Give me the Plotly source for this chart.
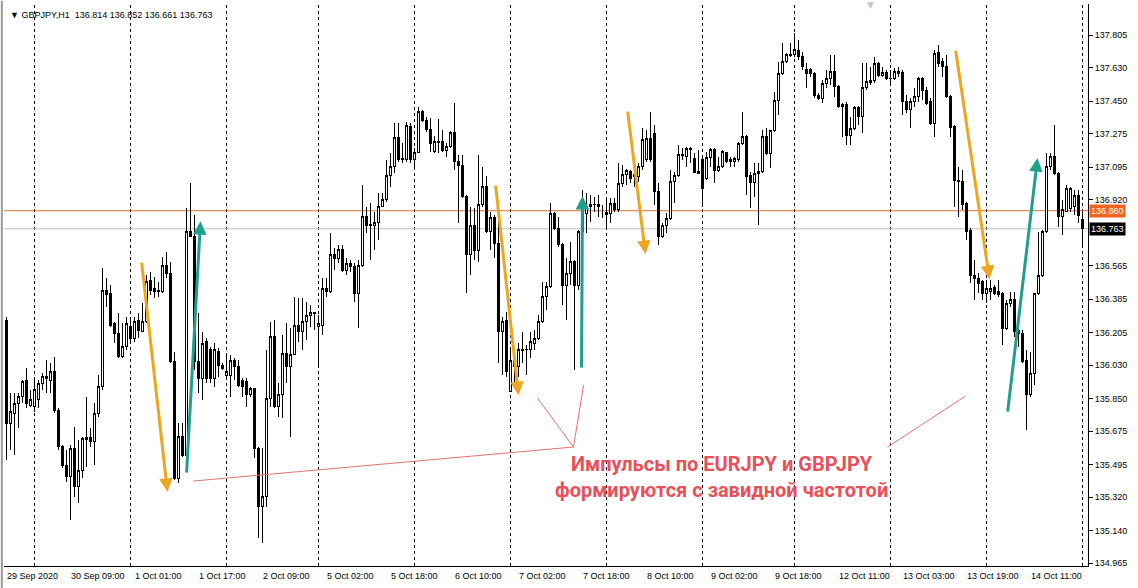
import plotly.graph_objects as go

# ---------------- data (GBPJPY H1) ----------------
opens = [
136.272, 135.716, 135.770, 135.824, 135.860, 135.949, 135.815, 135.806, 135.842, 135.931,
135.967, 135.949, 135.994, 135.788, 135.591, 135.492, 135.429, 135.582, 135.376, 135.465,
135.630, 135.641, 135.618, 135.770, 135.913, 136.433, 136.416, 136.254, 136.200, 136.075,
136.129, 136.236, 136.173, 136.272, 136.209, 136.263, 136.487, 136.442, 136.424, 136.424,
136.568, 136.523, 136.048, 135.420, 135.645, 135.546, 136.747, 136.720, 136.048, 135.958,
136.156, 136.111, 135.958, 136.102, 136.030, 135.976, 135.976, 136.057, 136.021, 135.949,
135.940, 135.869, 135.905, 135.582, 135.268, 135.322, 135.851, 136.182, 135.806, 135.869,
136.093, 136.021, 136.084, 136.245, 136.209, 136.263, 136.294, 136.312, 136.236, 136.245,
136.442, 136.424, 136.622, 136.604, 136.652, 136.541, 136.577, 136.559, 136.416, 136.568,
136.828, 136.787, 136.778, 136.796, 136.885, 136.918, 137.047, 137.097, 137.255, 137.133,
137.133, 137.312, 137.136, 137.172, 137.395, 137.344, 137.298, 137.178, 137.235, 137.231,
137.183, 137.204, 137.283, 137.127, 137.106, 136.939, 136.627, 136.783, 136.645, 136.896,
136.993, 136.747, 136.824, 136.684, 136.209, 136.269, 135.887, 136.057, 136.021, 136.107,
136.111, 136.111, 136.147, 136.173, 136.263, 136.398, 136.451, 136.846, 136.765, 136.676,
136.460, 136.523, 136.586, 136.460, 136.747, 136.846, 136.885, 136.891, 136.891, 136.878,
136.842, 136.846, 136.900, 136.864, 137.007, 137.057, 137.070, 137.057, 137.043, 137.097,
137.133, 137.249, 137.276, 136.962, 136.720, 136.778, 136.819, 137.016, 137.047, 137.158,
137.154, 137.187, 137.142, 137.070, 137.133, 137.034, 137.147, 137.190, 137.079, 137.097,
137.172, 137.124, 137.124, 137.133, 137.222, 137.258, 137.052, 137.011, 137.061, 137.070,
137.258, 137.169, 137.294, 137.455, 137.599, 137.662, 137.696, 137.698, 137.724, 137.689,
137.620, 137.620, 137.599, 137.482, 137.464, 137.545, 137.572, 137.608, 137.527, 137.420,
137.434, 137.267, 137.303, 137.416, 137.369, 137.524, 137.549, 137.559, 137.653, 137.590,
137.602, 137.570, 137.572, 137.599, 137.602, 137.447, 137.402, 137.447, 137.473, 137.572,
137.509, 137.447, 137.330, 137.710, 137.662, 137.638, 137.473, 137.312, 137.025, 137.016,
136.900, 136.756, 136.514, 136.496, 136.478, 136.416, 136.424, 136.448, 136.424, 136.416,
136.227, 136.362, 136.380, 136.218, 136.200, 136.057, 135.869, 135.985, 136.416, 136.514,
136.747, 137.097, 137.151, 137.061, 136.828, 136.855, 136.873, 136.882, 136.944, 136.814,
]
highs = [
136.290, 135.878, 135.878, 135.878, 135.949, 136.012, 135.896, 135.949, 135.949, 135.985,
136.057, 136.039, 136.075, 135.797, 135.600, 135.573, 135.600, 135.698, 135.627, 135.645,
135.860, 135.689, 135.824, 135.976, 136.550, 136.496, 136.460, 136.263, 136.308, 136.254,
136.290, 136.290, 136.290, 136.308, 136.362, 136.514, 136.532, 136.505, 136.478, 136.613,
136.640, 136.586, 136.102, 135.716, 135.716, 136.873, 137.007, 136.837, 136.308, 136.209,
136.173, 136.129, 136.147, 136.120, 136.039, 136.084, 136.084, 136.066, 136.057, 135.958,
135.958, 135.913, 135.905, 135.591, 135.582, 136.111, 136.263, 136.272, 135.931, 136.191,
136.254, 136.227, 136.398, 136.389, 136.389, 136.371, 136.353, 136.317, 136.299, 136.496,
136.496, 136.738, 136.658, 136.676, 136.676, 136.604, 136.595, 136.577, 136.595, 136.998,
136.882, 136.900, 136.855, 136.953, 136.953, 137.133, 137.169, 137.334, 137.334, 137.222,
137.339, 137.330, 137.195, 137.420, 137.402, 137.362, 137.357, 137.262, 137.351, 137.294,
137.222, 137.291, 137.438, 137.160, 137.160, 136.944, 136.882, 136.873, 137.160, 137.097,
137.048, 136.855, 136.837, 136.837, 136.286, 136.317, 136.111, 136.093, 136.147, 136.209,
136.138, 136.209, 136.218, 136.299, 136.478, 136.478, 136.900, 136.855, 136.828, 136.685,
136.604, 136.694, 136.595, 136.756, 136.971, 136.953, 136.944, 136.936, 136.944, 136.891,
136.927, 136.927, 136.927, 137.115, 137.106, 137.083, 137.079, 137.133, 137.115, 137.303,
137.294, 137.393, 137.321, 137.007, 136.792, 136.846, 137.079, 137.070, 137.213, 137.195,
137.204, 137.204, 137.169, 137.187, 137.151, 137.178, 137.195, 137.195, 137.151, 137.187,
137.178, 137.151, 137.151, 137.231, 137.393, 137.267, 137.070, 137.115, 137.115, 137.294,
137.303, 137.294, 137.500, 137.662, 137.760, 137.707, 137.760, 137.814, 137.778, 137.715,
137.653, 137.626, 137.608, 137.491, 137.563, 137.617, 137.698, 137.698, 137.536, 137.441,
137.447, 137.366, 137.423, 137.423, 137.653, 137.653, 137.635, 137.689, 137.662, 137.635,
137.617, 137.617, 137.626, 137.635, 137.617, 137.482, 137.464, 137.518, 137.581, 137.581,
137.527, 137.464, 137.724, 137.751, 137.680, 137.698, 137.482, 137.321, 137.097, 137.079,
136.909, 136.765, 136.595, 136.523, 136.487, 136.487, 136.487, 136.460, 136.487, 136.425,
136.380, 136.424, 136.424, 136.263, 136.218, 136.111, 136.102, 136.416, 136.747, 136.756,
137.169, 137.169, 137.321, 137.070, 136.918, 136.998, 136.989, 136.971, 136.971, 136.852,
]
lows = [
135.519, 135.573, 135.546, 135.689, 135.824, 135.797, 135.806, 135.779, 135.797, 135.896,
135.878, 135.878, 135.770, 135.573, 135.474, 135.402, 135.196, 135.322, 135.286, 135.420,
135.483, 135.591, 135.492, 135.752, 135.896, 136.344, 136.236, 136.147, 136.066, 136.066,
136.111, 136.147, 136.156, 136.173, 136.209, 136.254, 136.407, 136.389, 136.398, 136.416,
136.496, 136.039, 135.411, 135.393, 135.537, 135.501, 136.720, 136.003, 135.878, 135.842,
135.931, 135.931, 135.913, 135.967, 136.003, 135.958, 135.860, 135.949, 135.913, 135.860,
135.806, 135.860, 135.528, 135.098, 135.071, 135.268, 135.806, 135.797, 135.752, 135.743,
135.931, 135.645, 136.084, 136.156, 136.111, 136.164, 136.236, 136.218, 136.012, 136.191,
136.398, 136.416, 136.541, 136.577, 136.532, 136.514, 136.532, 136.371, 136.227, 136.559,
136.738, 136.595, 136.649, 136.702, 136.882, 136.909, 136.989, 137.061, 137.124, 137.115,
137.124, 137.115, 137.097, 137.169, 137.339, 137.285, 137.178, 137.169, 137.169, 137.178,
137.151, 137.195, 137.079, 136.792, 136.927, 136.416, 136.514, 136.595, 136.586, 136.882,
136.738, 136.649, 136.604, 136.039, 135.976, 135.967, 135.887, 135.931, 135.967, 136.039,
135.976, 136.066, 136.111, 136.164, 136.254, 136.326, 136.442, 136.756, 136.667, 136.353,
136.272, 136.460, 136.003, 136.433, 136.720, 136.738, 136.801, 136.855, 136.828, 136.819,
136.756, 136.792, 136.855, 136.855, 136.989, 136.998, 137.007, 136.989, 137.016, 137.079,
137.124, 137.124, 136.891, 136.676, 136.711, 136.738, 136.810, 136.900, 137.043, 137.133,
137.097, 137.115, 137.061, 137.057, 136.882, 137.025, 137.097, 137.007, 137.070, 137.088,
137.115, 137.097, 137.097, 137.124, 137.213, 136.944, 136.873, 136.936, 136.783, 137.061,
137.160, 137.088, 137.285, 137.375, 137.590, 137.653, 137.689, 137.689, 137.671, 137.617,
137.518, 137.581, 137.464, 137.455, 137.438, 137.518, 137.536, 137.473, 137.411, 137.258,
137.213, 137.213, 137.294, 137.321, 137.276, 137.509, 137.536, 137.545, 137.581, 137.581,
137.563, 137.536, 137.563, 137.581, 137.375, 137.384, 137.303, 137.420, 137.447, 137.455,
137.429, 137.321, 137.258, 137.635, 137.581, 137.464, 137.258, 136.882, 136.828, 136.864,
136.702, 136.469, 136.380, 136.416, 136.380, 136.362, 136.380, 136.407, 136.398, 136.138,
136.218, 136.344, 136.182, 136.129, 136.039, 135.680, 135.860, 135.922, 136.407, 136.505,
136.738, 137.079, 137.052, 136.774, 136.729, 136.855, 136.855, 136.837, 136.792, 136.661,
]
closes = [
135.716, 135.779, 135.824, 135.860, 135.940, 135.824, 135.842, 135.896, 135.931, 135.967,
135.958, 135.994, 135.788, 135.591, 135.492, 135.429, 135.582, 135.376, 135.465, 135.636,
135.641, 135.618, 135.770, 135.913, 136.433, 136.407, 136.245, 136.200, 136.075, 136.129,
136.254, 136.173, 136.263, 136.218, 136.263, 136.478, 136.433, 136.424, 136.433, 136.568,
136.523, 136.048, 135.420, 135.645, 135.546, 136.747, 136.720, 136.048, 135.958, 136.147,
135.958, 135.958, 136.111, 136.030, 136.012, 135.994, 136.057, 136.021, 135.922, 135.913,
135.869, 135.905, 135.582, 135.268, 135.322, 135.851, 136.182, 135.806, 135.869, 136.093,
136.021, 136.084, 136.245, 136.209, 136.263, 136.294, 136.312, 136.308, 136.254, 136.442,
136.424, 136.622, 136.604, 136.652, 136.541, 136.577, 136.559, 136.416, 136.568, 136.828,
136.783, 136.781, 136.796, 136.885, 136.918, 137.047, 137.097, 137.255, 137.136, 137.142,
137.316, 137.136, 137.172, 137.395, 137.344, 137.298, 137.222, 137.231, 137.226, 137.183,
137.204, 137.283, 137.127, 137.106, 136.936, 136.627, 136.783, 136.645, 136.896, 136.993,
136.747, 136.824, 136.684, 136.209, 136.263, 135.994, 136.057, 136.021, 136.111, 136.111,
136.114, 136.156, 136.173, 136.263, 136.398, 136.451, 136.846, 136.765, 136.676, 136.460,
136.523, 136.586, 136.460, 136.747, 136.900, 136.882, 136.891, 136.893, 136.882, 136.878,
136.849, 136.900, 136.864, 137.007, 137.057, 137.074, 137.034, 137.043, 137.097, 137.244,
137.249, 137.133, 136.962, 136.720, 136.778, 136.819, 137.016, 137.047, 137.160, 137.160,
137.195, 137.195, 137.065, 137.061, 136.980, 137.147, 137.190, 137.079, 137.097, 137.178,
137.124, 137.133, 137.142, 137.222, 137.258, 137.043, 137.011, 137.061, 137.070, 137.258,
137.169, 137.294, 137.455, 137.599, 137.662, 137.698, 137.698, 137.728, 137.689, 137.635,
137.599, 137.599, 137.482, 137.464, 137.545, 137.572, 137.608, 137.527, 137.420, 137.434,
137.267, 137.303, 137.416, 137.369, 137.524, 137.554, 137.563, 137.653, 137.590, 137.602,
137.572, 137.572, 137.608, 137.608, 137.447, 137.402, 137.447, 137.473, 137.572, 137.509,
137.438, 137.330, 137.707, 137.653, 137.638, 137.473, 137.308, 137.025, 137.016, 136.891,
136.747, 136.514, 136.496, 136.469, 136.416, 136.442, 136.442, 136.416, 136.407, 136.227,
136.362, 136.380, 136.209, 136.200, 136.048, 135.869, 135.985, 136.416, 136.514, 136.747,
137.097, 137.151, 137.061, 136.828, 136.864, 136.980, 136.980, 136.944, 136.837, 136.763,
]

# bar index of each day's first hourly bar (period separators)
day_start_bars = [7, 31, 55, 78, 102, 126, 150, 174, 197, 221, 245, 269]

# time-axis labels and the bar each one belongs to
time_label_bars = [0, 16, 32, 48, 64, 80, 96, 112, 128, 144, 160, 176, 192, 208, 224, 240, 256]
time_labels = ["29 Sep 2020", "30 Sep 09:00", "1 Oct 01:00", "1 Oct 17:00", "2 Oct 09:00",
               "5 Oct 02:00", "5 Oct 18:00", "6 Oct 10:00", "7 Oct 02:00", "7 Oct 18:00",
               "8 Oct 10:00", "9 Oct 02:00", "9 Oct 18:00", "12 Oct 11:00", "13 Oct 03:00",
               "13 Oct 19:00", "14 Oct 11:00"]

price_ticks = [137.805, 137.630, 137.450, 137.275, 137.095, 136.920, 136.565,
               136.385, 136.205, 136.030, 135.850, 135.675, 135.495, 135.320, 135.140, 134.965]

level_line = 136.860
bid_price = 136.763
symbol_title = "GBPJPY,H1  136.814 136.852 136.661 136.763"

# hand-drawn impulse arrows: (bar_from, price_from, bar_to, price_to)
down_arrows = [(33.75, 136.589, 40.25, 135.347),
               (122.25, 137.003, 128.0, 135.868),
               (155.25, 137.401, 159.75, 136.627),
               (237.25, 137.729, 245.75, 136.492)]
up_arrows = [(45.0, 135.443, 48.5, 136.804),
             (143.75, 136.008, 144.0, 136.939),
             (250.25, 135.771, 257.75, 137.143)]
# callout lines: (bar_a, price_a, bar_b, price_b)
callout_lines = [(46.75, 135.406, 141.75, 135.589),
                 (132.75, 135.852, 141.75, 135.589),
                 (144.25, 135.922, 141.75, 135.589),
                 (220.25, 135.589, 239.75, 135.863)]
callout_text = "<b>Импульсы по EURJPY и GBPJPY<br>формируются с завидной частотой</b>"
callout_pos = (178.8, 135.430)

# ---------------- figure ----------------
bars = list(range(len(closes)))

fig = go.Figure()
fig.add_trace(go.Candlestick(
    x=bars, open=opens, high=highs, low=lows, close=closes,
    increasing=dict(line=dict(color="#000000", width=1), fillcolor="#ffffff"),
    decreasing=dict(line=dict(color="#000000", width=1), fillcolor="#000000"),
    whiskerwidth=0, showlegend=False, hoverinfo="skip",
))

shapes = []
for b in day_start_bars:
    shapes.append(dict(type="line", xref="x", yref="paper", x0=b, x1=b, y0=0, y1=1,
                       line=dict(color="#000000", width=1, dash="3px,3px"), layer="below"))
shapes.append(dict(type="line", xref="paper", yref="y", x0=0, x1=1, y0=bid_price, y1=bid_price,
                   line=dict(color="#C0C0C0", width=1), layer="below"))
shapes.append(dict(type="line", xref="paper", yref="y", x0=0, x1=1, y0=level_line, y1=level_line,
                   line=dict(color="#D9702C", width=1), layer="below"))
for (xa, ya, xb, yb) in callout_lines:
    shapes.append(dict(type="line", xref="x", yref="y", x0=xa, y0=ya, x1=xb, y1=yb,
                       line=dict(color="#E27272", width=1)))
# window border (left)
shapes.append(dict(type="line", xref="paper", yref="paper", x0=-0.002, x1=-0.002, y0=-0.04, y1=1.006,
                   line=dict(color="#9A9A9A", width=2)))

annotations = []
for (x0, y0, x1, y1) in down_arrows:
    annotations.append(dict(x=x1, y=y1, ax=x0, ay=y0, xref="x", yref="y", axref="x", ayref="y",
                            text="", showarrow=True, arrowhead=2, arrowsize=0.9, arrowwidth=3,
                            arrowcolor="#EDA620", standoff=0, startstandoff=0))
for (x0, y0, x1, y1) in up_arrows:
    annotations.append(dict(x=x1, y=y1, ax=x0, ay=y0, xref="x", yref="y", axref="x", ayref="y",
                            text="", showarrow=True, arrowhead=2, arrowsize=0.9, arrowwidth=3,
                            arrowcolor="#1FA08A", standoff=0, startstandoff=0))
annotations.append(dict(x=callout_pos[0], y=callout_pos[1], xref="x", yref="y", text=callout_text,
                        showarrow=False, align="center",
                        font=dict(family="Roboto", size=20, color="#E8505A")))
for b, lab in zip(time_label_bars, time_labels):
    annotations.append(dict(x=b, y=0, xref="x", yref="paper", text=lab, showarrow=False,
                            xanchor="left", yanchor="top", xshift=-2, yshift=-3,
                            font=dict(family="Liberation Sans", size=9, color="#000000")))
annotations.append(dict(x=0, y=1, xref="paper", yref="paper", text="▼ " + symbol_title,
                        showarrow=False, xanchor="left", yanchor="top", xshift=4, yshift=-4,
                        font=dict(family="Liberation Sans", size=9, color="#000000")))
annotations.append(dict(x=1, y=level_line, xref="paper", yref="y", text="136.860",
                        showarrow=False, xanchor="left", xshift=1, bgcolor="#EE6420",
                        borderpad=1, font=dict(family="Liberation Sans", size=9, color="#ffffff")))
annotations.append(dict(x=1, y=bid_price, xref="paper", yref="y", text="136.763",
                        showarrow=False, xanchor="left", xshift=1, bgcolor="#000000",
                        borderpad=1, font=dict(family="Liberation Sans", size=9, color="#ffffff")))
annotations.append(dict(x=216, y=1, xref="x", yref="paper", text="▼", showarrow=False,
                        yanchor="top", yshift=6,
                        font=dict(family="DejaVu Sans", size=9, color="#C8C8C8")))

fig.update_layout(
    width=1138, height=588, autosize=False,
    margin=dict(l=4, r=50, t=4, b=22, pad=0),
    paper_bgcolor="#ffffff", plot_bgcolor="#ffffff",
    shapes=shapes, annotations=annotations, showlegend=False,
    boxgap=0.5,
    xaxis=dict(range=[-0.625, 270.375], showgrid=False, zeroline=False, showticklabels=False,
               ticks="", showline=True, linecolor="#000000", linewidth=1, automargin=False,
               rangeslider=dict(visible=False), fixedrange=True),
    yaxis=dict(range=[134.949, 137.972], side="right", showgrid=False, zeroline=False,
               tickmode="array", tickvals=price_ticks,
               ticktext=[f"{v:.3f}" for v in price_ticks],
               ticks="outside", ticklen=4, tickcolor="#000000", automargin=False,
               showline=True, linecolor="#000000", linewidth=1,
               tickfont=dict(family="Liberation Sans", size=9, color="#000000"),
               fixedrange=True),
)

page_fix = ("document.body.style.margin='0';document.body.style.padding='0';"
            "document.body.style.overflow='hidden';"
            "document.querySelectorAll('.boxlayer path').forEach(function(p){"
            "p.style.shapeRendering='crispEdges';});")
fig.write_html("out.html", post_script=page_fix,
               config={"displayModeBar": False, "staticPlot": True})
